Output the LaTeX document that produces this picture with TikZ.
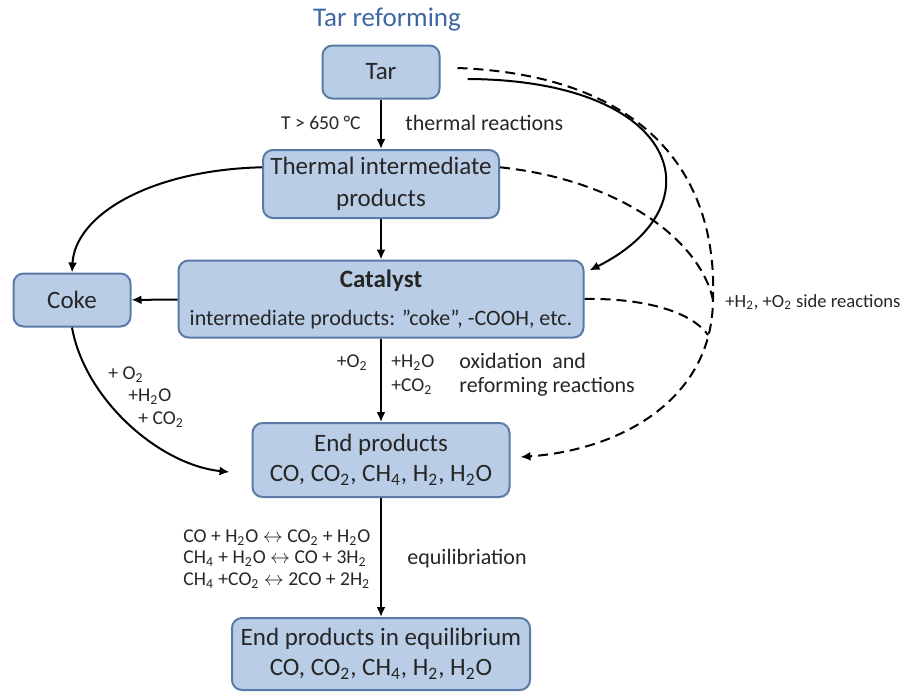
\documentclass[tikz,border=0pt]{standalone}
\usepackage{fontspec}
\setmainfont{Carlito}
\usetikzlibrary{arrows.meta}
\definecolor{boxfill}{HTML}{B9CDE6}
\definecolor{boxline}{HTML}{5B7BA6}
\definecolor{titleblue}{HTML}{3E67A3}
\definecolor{txt}{HTML}{262626}

\begin{document}
\begin{tikzpicture}[x=0.5pt,y=-0.5pt,
    box/.style={draw=boxline,fill=boxfill,line width=1pt,rounded corners=5pt,inner sep=0pt,
        align=center,text=txt,font=\fontsize{12.5}{15}\selectfont},
    lbl/.style={inner sep=0pt,text=txt,font=\fontsize{11}{12}\selectfont},
    chem/.style={inner sep=0pt,text=txt,font=\fontsize{9.8}{11}\selectfont},
    flow/.style={line width=1pt,-{Latex[length=5pt,width=4.5pt]}},
    sideline/.style={line width=1pt,dash pattern=on 5pt off 3pt}]
    \useasboundingbox (0,0) rectangle (908,691);
    % Boxes:
    \node[text=titleblue,font=\fontsize{13.5}{16}\selectfont] (title) at (387,20) {Tar reforming};
    \node[box,minimum width=58.5pt,minimum height=26.5pt] (tar) at (381,72) {Tar};
    \node[box,minimum width=118pt,minimum height=34pt,font=\fontsize{12.5}{16}\selectfont] (thermal) at (381,184)
        {Thermal intermediate\\products};
    \node[box,minimum width=202.5pt,minimum height=38.5pt] (catalyst) at (381,299)
        {\textbf{Catalyst}\\[4pt]{\fontsize{11}{13}\selectfont intermediate products: ''coke'', -COOH, etc.}};
    \node[box,minimum width=58.5pt,minimum height=26.5pt] (coke) at (72,300) {Coke};
    \node[box,minimum width=128.5pt,minimum height=37pt] (endp) at (381,460)
        {End products\\CO, CO\textsubscript{2}, CH\textsubscript{4}, H\textsubscript{2}, H\textsubscript{2}O};
    \node[box,minimum width=149pt,minimum height=36pt] (equil) at (381,654)
        {End products in equilibrium\\CO, CO\textsubscript{2}, CH\textsubscript{4}, H\textsubscript{2}, H\textsubscript{2}O};
    \coordinate (bend) at (713,300);
    \coordinate (merge) at (708,335);
    % Main flow:
    \draw[flow] (tar) -- (thermal);
    \draw[flow] (thermal) -- (catalyst);
    \draw[flow] (catalyst) -- (coke);
    \draw[flow] (catalyst) -- (endp);
    \draw[flow] (endp) -- (equil);
    \draw[flow] (thermal.172) .. controls (150,170) and (75,215) .. (coke.north);
    \draw[flow] (coke.south) .. controls (85,400) and (160,465) .. ([xshift=-11pt,yshift=-6pt]endp.west);
    \draw[flow] ([xshift=13.5pt,yshift=-3.5pt]tar.east) .. controls (680,80) and (720,205) .. ([xshift=2.5pt]catalyst.8);
    % Side reactions:
    \draw[sideline,-{Latex[length=5pt,width=4.5pt]}] ([xshift=8.5pt,yshift=2pt]tar.east) .. controls (640,75) and (718,170) .. (bend)
        .. controls (712,400) and (620,450) .. ([xshift=5pt,yshift=1.5pt]endp.east);
    \draw[sideline] (thermal.8) .. controls (620,180) and (700,240) .. (bend);
    \draw[sideline] (catalyst.east) .. controls (640,298) and (690,310) .. (merge);
    % Labels:
    \node[chem,anchor=east] (tlbl) at (361,123) {T > 650 °C};
    \node[lbl,anchor=west] (thlbl) at (405,123) {thermal reactions};
    \node[chem,anchor=east] (oxlbl) at (368,363) {+O\textsubscript{2}};
    \node[chem,anchor=west,align=left,font=\fontsize{9.8}{12}\selectfont] (reflbl) at (391,375)
        {+H\textsubscript{2}O\\+CO\textsubscript{2}};
    \node[lbl,anchor=west,align=left] (oxreflbl) at (459,375) {oxidation\ \ and\\reforming reactions};
    \node[chem,anchor=west] (cokeo) at (108,375) {+ O\textsubscript{2}};
    \node[chem,anchor=west] (cokeh) at (128,397) {+H\textsubscript{2}O};
    \node[chem,anchor=west] (cokec) at (138,420) {+ CO\textsubscript{2}};
    \node[chem,anchor=west,align=left,font=\fontsize{9.8}{10.8}\selectfont] (eqlbl) at (183,559)
        {CO + H\textsubscript{2}O $\leftrightarrow$ CO\textsubscript{2} + H\textsubscript{2}O\\
         CH\textsubscript{4} + H\textsubscript{2}O $\leftrightarrow$ CO + 3H\textsubscript{2}\\
         CH\textsubscript{4} +CO\textsubscript{2} $\leftrightarrow$ 2CO + 2H\textsubscript{2}};
    \node[lbl,anchor=west] (eqilbl) at (407,559) {equilibriation};
    \node[lbl,anchor=west,font=\fontsize{9.3}{11}\selectfont] (sidelbl) at (725,302)
        {+H\textsubscript{2}, +O\textsubscript{2} side reactions};
\end{tikzpicture}
\end{document}
